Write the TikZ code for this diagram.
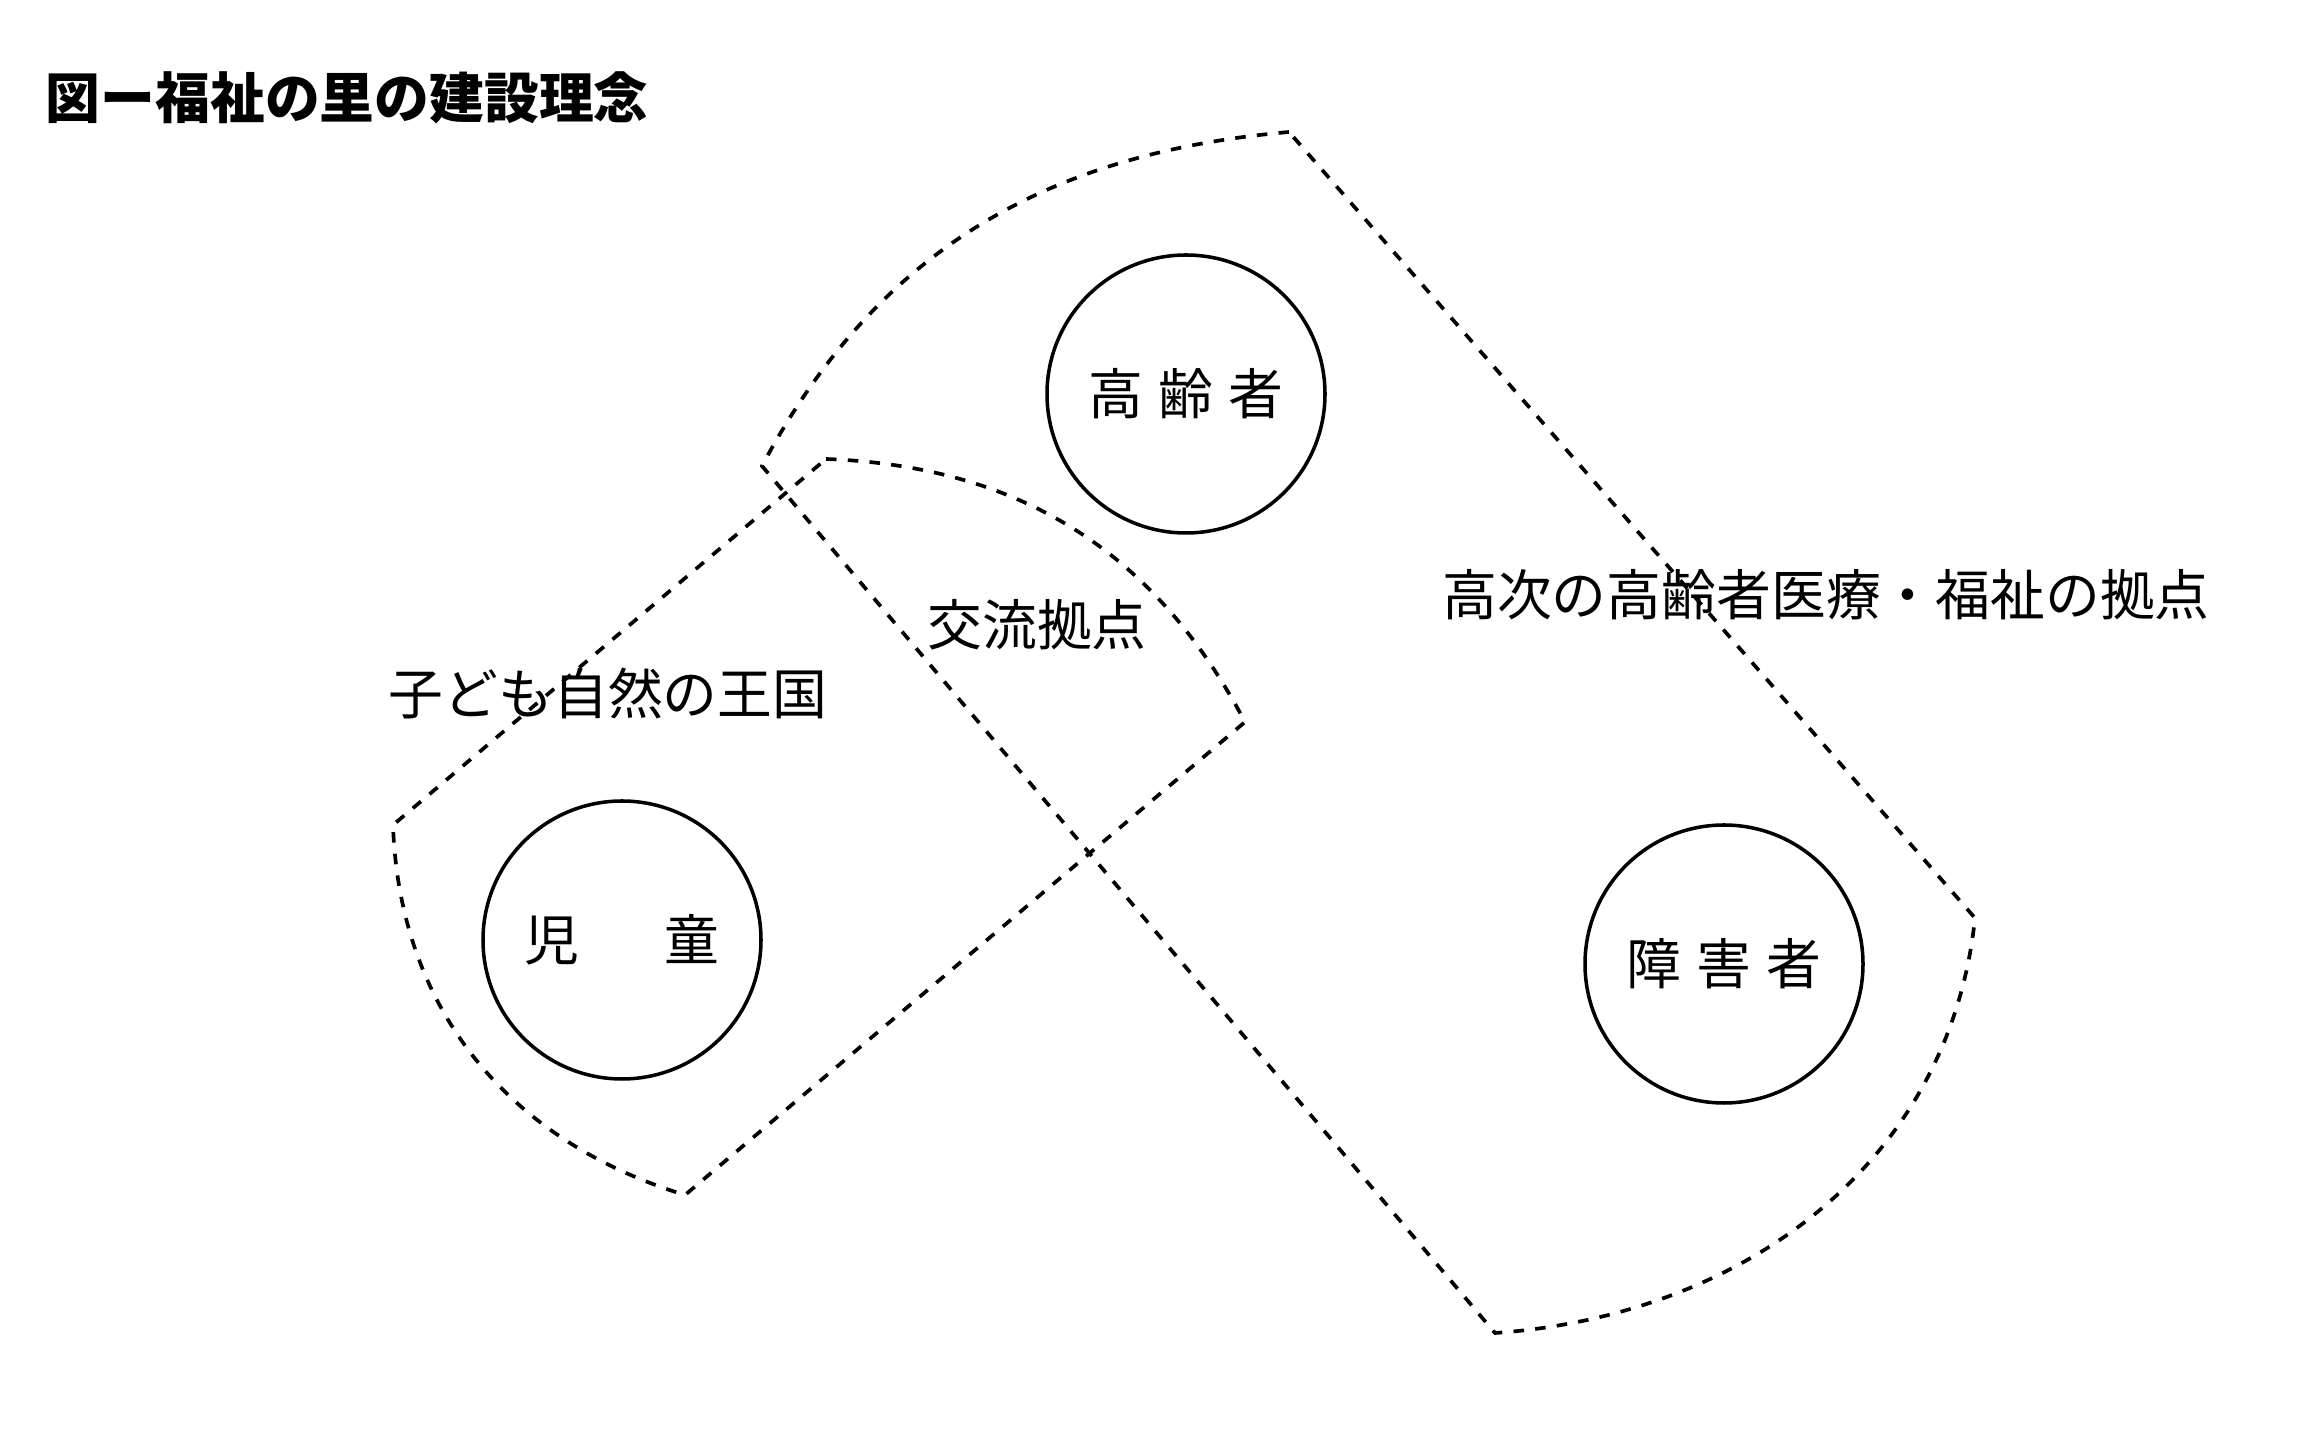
\documentclass[tikz,border=0pt]{standalone}
\usepackage{fontspec}
\setmainfont{Noto Sans CJK JP}
\usepackage{tikz}

\begin{document}
\begin{tikzpicture}[
    zone/.style={line width=1.05pt, dash pattern=on 3pt off 3.2pt},
    group/.style={circle, draw, line width=1pt, minimum size=2.78cm, inner sep=0pt},
    label/.style={font=\fontsize{15.6}{18}\selectfont, inner sep=0pt}
  ]
    \useasboundingbox (0,0) rectangle (23.2,-14.56);
    % corners of the zones
    \coordinate (A) at (12.89,-1.32);
    \coordinate (B) at (7.62,-4.66);
    \coordinate (C) at (19.75,-9.18);
    \coordinate (D) at (14.95,-13.33);
    \coordinate (E) at (8.26,-4.59);
    \coordinate (F) at (12.45,-7.22);
    \coordinate (G) at (3.93,-8.25);
    \coordinate (H) at (6.85,-11.95);
    \draw[zone] (A) to[out=185,in=62] (B) -- (D) to[out=4,in=264] (C) -- cycle;
    \draw[zone] (E) to[bend left=30] (F) -- (H) to[out=163,in=272] (G) -- cycle;
    % groups
    \node[group] (elder) at (11.86,-3.94) {};
    \node[group] (child) at (6.22,-9.40) {};
    \node[group] (handi) at (17.24,-9.64) {};
    \node[label] (elderT) at (elder) {高\hspace{.27em}齢\hspace{.27em}者};
    \node[label] (childT) at (child) {児\hspace{1.55em}童};
    \node[label] (handiT) at (handi) {障\hspace{.27em}害\hspace{.27em}者};
    % texts
    \node[label, anchor=west, font=\fontsize{15.6}{18}\selectfont\bfseries] (title) at (0.45,-0.98) {図ー福祉の里の建設理念};
    \node[label] (hub) at (10.37,-6.25) {交流拠点};
    \node[label] (kingdom) at (6.08,-6.94) {子ども自然の王国};
    \node[label] (medical) at (18.26,-5.95) {高次の高齢者医療・福祉の拠点};
\end{tikzpicture}
\end{document}
